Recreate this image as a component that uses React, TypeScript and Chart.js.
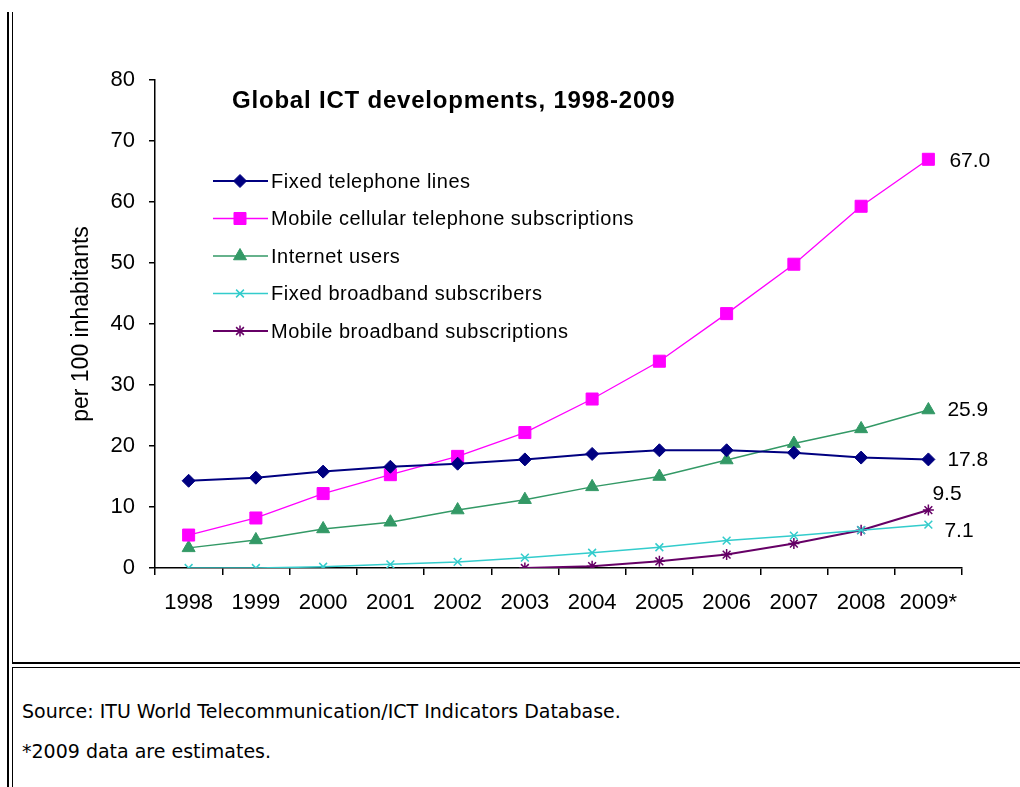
import React, { useEffect, useRef } from 'react';
import { Chart, registerables, PointElement } from 'chart.js';

Chart.register(...registerables);

const years = ['1998', '1999', '2000', '2001', '2002', '2003', '2004', '2005', '2006', '2007', '2008', '2009*'];
const fixedTelephoneLines = [14.3, 14.8, 15.8, 16.6, 17.1, 17.8, 18.7, 19.3, 19.3, 18.9, 18.1, 17.8];
const mobileCellular = [5.4, 8.2, 12.2, 15.3, 18.3, 22.2, 27.7, 33.9, 41.7, 49.8, 59.3, 67.0];
const internetUsers = [3.3, 4.6, 6.4, 7.5, 9.5, 11.2, 13.3, 15.0, 17.7, 20.4, 22.8, 25.9];
const fixedBroadband = [0.0, 0.0, 0.2, 0.6, 1.0, 1.7, 2.5, 3.4, 4.5, 5.3, 6.2, 7.1];
const mobileBroadband = [null, null, null, null, null, 0.0, 0.3, 1.1, 2.2, 4.0, 6.2, 9.5];

const seriesNames = [
  'Fixed telephone lines',
  'Mobile cellular telephone subscriptions',
  'Internet users',
  'Fixed broadband subscribers',
  'Mobile broadband subscriptions',
];
const chartTitle = 'Global ICT developments, 1998-2009';
const yAxisTitle = 'per 100 inhabitants';
const sourceNote = 'Source: ITU World Telecommunication/ICT Indicators Database.';
const estimateNote = '*2009 data are estimates.';

const FONT = "'Liberation Sans', Arial, sans-serif";

const overlayPlugin = {
  id: 'overlayTexts',
  afterDatasetsDraw(chart: any) {
    const ctx = chart.ctx as CanvasRenderingContext2D;
    const area = chart.chartArea;
    ctx.save();
    ctx.fillStyle = '#000';
    ctx.textAlign = 'left';
    ctx.textBaseline = 'middle';

    // title
    ctx.font = `bold 24px ${FONT}`;
    (ctx as any).letterSpacing = '0.8px';
    ctx.fillText(chartTitle, area.left + 77, area.top + 21);

    // legend
    ctx.font = `20px ${FONT}`;
    (ctx as any).letterSpacing = '0.5px';
    const lx = area.left + 58;
    const ly = area.top + 101;
    const step = 37.5;
    const full = { left: 0, top: 0, right: chart.width, bottom: chart.height };
    chart.data.datasets.forEach((ds: any, i: number) => {
      const y = ly + i * step;
      ctx.save();
      ctx.strokeStyle = ds.borderColor;
      ctx.lineWidth = ds.borderWidth;
      ctx.beginPath();
      ctx.moveTo(lx, y);
      ctx.lineTo(lx + 55, y);
      ctx.stroke();
      ctx.restore();
      const pe: any = new PointElement({});
      pe.x = lx + 27;
      pe.y = y;
      pe.options = {
        radius: ds.pointRadius,
        pointStyle: ds.pointStyle,
        rotation: 0,
        borderWidth: ds.pointBorderWidth,
        borderColor: ds.pointBorderColor,
        backgroundColor: ds.pointBackgroundColor,
      };
      pe.draw(ctx, full);
      ctx.fillStyle = '#000';
      ctx.fillText(ds.label, lx + 58, y + 1);
    });

    // end-of-line value labels
    ctx.font = `21px ${FONT}`;
    (ctx as any).letterSpacing = '0px';
    chart.data.datasets.forEach((ds: any, i: number) => {
      const meta = chart.getDatasetMeta(i);
      const n = ds.data.length - 1;
      const el = meta.data[n];
      const v = ds.data[n];
      if (!el || v == null) return;
      ctx.fillText(Number(v).toFixed(1), el.x + ds.endLabel.dx, el.y + ds.endLabel.dy);
    });
    ctx.restore();
  },
};

function makeSet(label: string, data: (number | null)[], color: string, style: string, radius: number, lineWidth: number, pointBorder: number, endLabel: { dx: number; dy: number }) {
  return {
    label,
    data,
    borderColor: color,
    backgroundColor: color,
    borderWidth: lineWidth,
    pointStyle: style,
    pointRadius: radius,
    pointBorderWidth: pointBorder,
    pointBorderColor: color,
    pointBackgroundColor: color,
    tension: 0,
    spanGaps: false,
    endLabel,
  };
}

export default function App() {
  const ref = useRef<HTMLCanvasElement | null>(null);

  useEffect(() => {
    if (!ref.current) return;
    const chart = new Chart(ref.current, {
      type: 'line',
      data: {
        labels: years,
        datasets: [
          makeSet(seriesNames[0], fixedTelephoneLines, '#000080', 'rectRot', 6.5, 2, 1, { dx: 19, dy: 1 }),
          makeSet(seriesNames[1], mobileCellular, '#FF00FF', 'rect', 8.5, 1.3, 1, { dx: 21, dy: 2 }),
          makeSet(seriesNames[2], internetUsers, '#339966', 'triangle', 7.5, 1.5, 1, { dx: 19, dy: 0 }),
          makeSet(seriesNames[3], fixedBroadband, '#33CCCC', 'crossRot', 5.5, 1.5, 1.5, { dx: 16, dy: 7 }),
          makeSet(seriesNames[4], mobileBroadband, '#660066', 'star', 5.5, 2, 1.5, { dx: 4, dy: -16 }),
        ] as any,
      },
      options: {
        animation: false,
        responsive: false,
        maintainAspectRatio: false,
        layout: { padding: { top: 80, right: 58, left: 0, bottom: 0 } },
        plugins: {
          legend: { display: false },
          tooltip: { enabled: false },
          title: { display: false },
        },
        scales: {
          x: {
            type: 'category',
            offset: true,
            grid: {
              display: true,
              offset: true,
              drawOnChartArea: false,
              drawTicks: true,
              tickLength: 7,
              color: '#000',
              lineWidth: 1.5,
            },
            border: { display: true, color: '#000', width: 1.5 },
            ticks: {
              color: '#000',
              font: { family: FONT, size: 22 },
              padding: 15,
              maxRotation: 0,
              autoSkip: false,
            },
            afterFit: (s: any) => {
              s.height = 94;
            },
          },
          y: {
            min: 0,
            max: 80,
            grid: {
              display: true,
              drawOnChartArea: false,
              drawTicks: true,
              tickLength: 6,
              color: '#000',
              lineWidth: 1.5,
            },
            border: { display: true, color: '#000', width: 1.5 },
            ticks: {
              stepSize: 10,
              color: '#000',
              font: { family: FONT, size: 22 },
              padding: 14,
            },
            title: {
              display: true,
              text: yAxisTitle,
              color: '#000',
              font: { family: FONT, size: 23 },
              padding: { top: 68, bottom: 0 },
            },
            afterFit: (s: any) => {
              s.width = 155;
            },
          },
        },
      } as any,
      plugins: [overlayPlugin],
    });
    return () => chart.destroy();
  }, []);

  const line = (style: React.CSSProperties) => (
    <div style={{ position: 'absolute', background: '#000', ...style }} />
  );

  const noteStyle: React.CSSProperties = {
    position: 'absolute',
    left: 22,
    fontFamily: "'DejaVu Sans', Verdana, sans-serif",
    fontSize: 19,
    lineHeight: '22px',
    color: '#000',
    whiteSpace: 'nowrap',
  };

  return (
    <div style={{ position: 'absolute', left: 0, top: 0, width: 1020, height: 787, background: '#fff', overflow: 'hidden' }}>
      <canvas ref={ref} width={1020} height={662} style={{ position: 'absolute', left: 0, top: 0, width: 1020, height: 662 }} />
      {line({ left: 7, top: 12, width: 2, height: 775 })}
      {line({ left: 12, top: 12, width: 1, height: 652 })}
      {line({ left: 12, top: 662, width: 1008, height: 2 })}
      {line({ left: 12, top: 667, width: 1008, height: 1 })}
      {line({ left: 12, top: 667, width: 1, height: 120 })}
      <div style={{ ...noteStyle, top: 700 }}>{sourceNote}</div>
      <div style={{ ...noteStyle, top: 740 }}>{estimateNote}</div>
    </div>
  );
}
